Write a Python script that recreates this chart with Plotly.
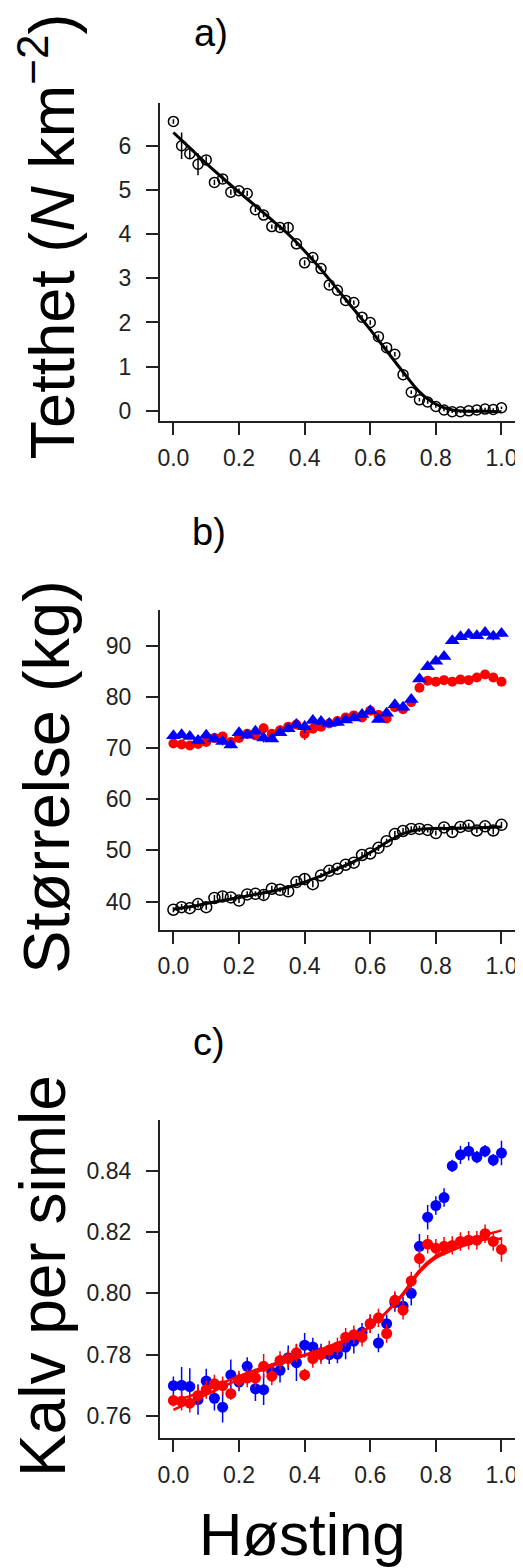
import plotly.graph_objects as go

# harvest rate (x), 41 steps
hosting = [i / 40 for i in range(41)]
fit_x = [i / 20 for i in range(21)]

# a) density
tetthet = [6.55, 6.0, 5.82, 5.58, 5.68, 5.17, 5.25, 4.95, 4.98, 4.92, 4.55, 4.43, 4.17, 4.15,
           4.15, 3.78, 3.35, 3.47, 3.22, 2.85, 2.73, 2.5, 2.45, 2.12, 2.0, 1.68, 1.43, 1.28,
           0.82, 0.42, 0.25, 0.2, 0.1, 0.02, -0.02, -0.02, 0.0, 0.02, 0.04, 0.03, 0.07]
tetthet_err = [0.05, 0.3, 0.1, 0.25, 0.08, 0.06, 0.08, 0.06, 0.05, 0.06, 0.05, 0.05, 0.05, 0.06,
               0.1, 0.05, 0.06, 0.05, 0.05, 0.05, 0.05, 0.05, 0.05, 0.05, 0.05, 0.05, 0.05, 0.05,
               0.05, 0.04, 0.04, 0.04, 0.03, 0.03, 0.03, 0.03, 0.03, 0.03, 0.03, 0.03, 0.03]
tetthet_fit = [6.30, 5.95, 5.60, 5.27, 4.95, 4.64, 4.32, 4.00, 3.62, 3.20, 2.75, 2.30, 1.84,
               1.36, 0.88, 0.43, 0.15, 0.02, -0.01, -0.01, -0.02]

# b) size
str_svart = [38.4, 38.9, 38.7, 39.5, 38.9, 40.7, 41.0, 40.8, 40.2, 41.4, 41.5, 41.3, 42.5, 42.3,
             42.0, 43.8, 44.4, 43.4, 45.1, 46.0, 46.4, 47.2, 47.6, 49.1, 49.4, 50.5, 51.8, 53.2,
             53.8, 54.2, 54.2, 54.0, 53.4, 54.5, 53.6, 54.6, 54.8, 53.9, 54.7, 53.9, 55.0]
str_svart_fit = [38.5, 39.0, 39.6, 40.2, 40.8, 41.4, 42.0, 42.8, 43.8, 45.0, 46.4, 47.8, 49.6,
                 51.6, 53.3, 54.1, 54.3, 54.3, 54.4, 54.5, 54.6]
str_rod = [70.9, 70.7, 70.5, 70.8, 71.2, 72.0, 72.3, 71.2, 72.0, 72.8, 72.5, 73.9, 72.8, 73.5,
           74.2, 74.6, 72.8, 73.8, 74.2, 74.8, 75.3, 76.0, 76.4, 76.0, 77.3, 76.5, 75.8, 78.0,
           77.6, 79.0, 81.8, 83.2, 83.0, 83.3, 83.0, 83.4, 83.3, 83.8, 84.4, 83.8, 83.0]
str_bla = [72.4, 72.6, 72.3, 71.5, 72.5, 71.8, 71.3, 70.6, 73.0, 72.5, 73.3, 72.0, 71.8, 73.0,
           73.8, 74.6, 74.2, 75.4, 75.2, 74.8, 75.0, 75.5, 75.9, 76.6, 77.3, 75.6, 76.8, 78.5,
           78.0, 79.5, 83.5, 85.9, 87.0, 87.9, 91.0, 91.8, 92.2, 92.0, 92.6, 91.9, 92.4]
str_err = [0.5, 0.6, 0.5, 0.7, 0.5, 0.6, 0.8, 0.6, 0.5, 0.6, 0.5, 0.9, 0.6, 0.5,
           0.7, 0.6, 1.2, 0.6, 0.5, 0.6, 0.5, 0.6, 0.5, 0.6, 0.5, 0.6, 0.5, 0.6,
           0.6, 0.5, 0.6, 0.5, 0.5, 0.6, 0.5, 0.6, 0.5, 0.5, 0.6, 0.8, 0.6]

# c) calves per female
kalv_bla = [0.7699, 0.7700, 0.7696, 0.7654, 0.7714, 0.7658, 0.7629, 0.7734, 0.7711, 0.7762,
            0.7689, 0.7686, 0.7743, 0.7749, 0.7790, 0.7774, 0.7831, 0.7825, 0.7806, 0.7800,
            0.7802, 0.7825, 0.7844, 0.7873, 0.7901, 0.7838, 0.7901, 0.7970, 0.7958, 0.8000,
            0.8153, 0.8248, 0.8286, 0.8312, 0.8415, 0.8451, 0.8463, 0.8444, 0.8463, 0.8434, 0.8457]
kalv_bla_err = [0.003, 0.006, 0.006, 0.005, 0.004, 0.004, 0.005, 0.005, 0.003, 0.003,
                0.004, 0.005, 0.003, 0.004, 0.004, 0.006, 0.004, 0.003, 0.003, 0.003,
                0.003, 0.004, 0.004, 0.003, 0.003, 0.003, 0.003, 0.003, 0.003, 0.004,
                0.004, 0.004, 0.003, 0.003, 0.002, 0.003, 0.003, 0.002, 0.002, 0.002, 0.004]
kalv_rod = [0.7651, 0.7648, 0.7642, 0.7667, 0.7686, 0.7705, 0.7699, 0.7673, 0.7718, 0.7724,
            0.7724, 0.7762, 0.7730, 0.7781, 0.7787, 0.7806, 0.7734, 0.7787, 0.7800, 0.7815,
            0.7825, 0.7857, 0.7865, 0.7857, 0.7901, 0.7920, 0.7869, 0.7977, 0.7945, 0.8040,
            0.8113, 0.8160, 0.8147, 0.8153, 0.8156, 0.8169, 0.8173, 0.8173, 0.8194, 0.8169, 0.8143]
kalv_rod_err = [0.002, 0.003, 0.003, 0.003, 0.003, 0.003, 0.003, 0.002, 0.003, 0.003,
                0.003, 0.004, 0.003, 0.003, 0.003, 0.003, 0.002, 0.003, 0.003, 0.003,
                0.003, 0.003, 0.003, 0.003, 0.003, 0.003, 0.003, 0.003, 0.003, 0.003,
                0.003, 0.003, 0.003, 0.003, 0.003, 0.003, 0.003, 0.003, 0.003, 0.003, 0.004]
kalv_fit1 = [0.7620, 0.7645, 0.7670, 0.7695, 0.7720, 0.7742, 0.7762, 0.7780, 0.7797, 0.7813,
             0.7832, 0.7858, 0.7890, 0.7940, 0.8000, 0.8075, 0.8122, 0.8150, 0.8172, 0.8190, 0.8205]
kalv_fit2 = [0.7650, 0.7665, 0.7685, 0.7708, 0.7730, 0.7750, 0.7768, 0.7785, 0.7800, 0.7817,
             0.7838, 0.7862, 0.7892, 0.7938, 0.7995, 0.8068, 0.8115, 0.8140, 0.8160, 0.8175, 0.8178]

# page body adds an 8px margin, so the figure is a bit smaller and coords are shifted
OFF = 8
W, H = 523 - OFF, 1568 - OFF
FONT = "Liberation Sans, Arial, sans-serif"
RED, BLUE = "#ff0000", "#0000ff"


def px(x):
    return (x - OFF) / W


def py(y):
    return 1 - (y - OFF) / H


def err(arr, col):
    return dict(type="data", array=arr, width=0, thickness=1.5, color=col)


fig = go.Figure()

# panel a
fig.add_trace(go.Scatter(x=fit_x, y=tetthet_fit, mode="lines", line=dict(color="black", width=3, shape="spline"),
                         xaxis="x", yaxis="y"))
fig.add_trace(go.Scatter(x=hosting, y=tetthet, mode="markers", error_y=err(tetthet_err, "black"),
                         marker=dict(symbol="circle-open", size=10, color="black", line=dict(width=1.5)),
                         xaxis="x", yaxis="y"))

# panel b
fig.add_trace(go.Scatter(x=hosting, y=str_rod, mode="markers", error_y=err(str_err, RED),
                         marker=dict(symbol="circle", size=10, color=RED), xaxis="x2", yaxis="y2"))
fig.add_trace(go.Scatter(x=hosting, y=str_bla, mode="markers", error_y=err(str_err, BLUE),
                         marker=dict(symbol="triangle-up", size=13, color=BLUE), xaxis="x2", yaxis="y2"))
fig.add_trace(go.Scatter(x=fit_x, y=str_svart_fit, mode="lines", line=dict(color="black", width=3, shape="spline"),
                         xaxis="x2", yaxis="y2"))
fig.add_trace(go.Scatter(x=hosting, y=str_svart, mode="markers", error_y=err(str_err, "black"),
                         marker=dict(symbol="circle-open", size=11, color="black", line=dict(width=1.5)),
                         xaxis="x2", yaxis="y2"))

# panel c
fig.add_trace(go.Scatter(x=hosting, y=kalv_bla, mode="markers", error_y=err(kalv_bla_err, BLUE),
                         marker=dict(symbol="circle", size=11, color=BLUE), xaxis="x3", yaxis="y3"))
fig.add_trace(go.Scatter(x=hosting, y=kalv_rod, mode="markers", error_y=err(kalv_rod_err, RED),
                         marker=dict(symbol="circle", size=11, color=RED), xaxis="x3", yaxis="y3"))
for f in (kalv_fit1, kalv_fit2):
    fig.add_trace(go.Scatter(x=fit_x, y=f, mode="lines", line=dict(color=RED, width=2.5, shape="spline"),
                             xaxis="x3", yaxis="y3"))

xdom = [px(159), px(517)]
axis_common = dict(showline=True, linecolor="#222", linewidth=2, ticks="outside", ticklen=12,
                   tickwidth=2, tickcolor="#222", showgrid=False, zeroline=False,
                   tickfont=dict(family=FONT, size=23, color="#222"))
xcommon = dict(axis_common, range=[-0.0414, 1.0414], tickvals=[0, 0.2, 0.4, 0.6, 0.8, 1.0],
               tickformat=".1f", domain=xdom, ticklabelstandoff=3)

fig.update_layout(
    width=W, height=H, margin=dict(l=0, r=0, t=0, b=0),
    paper_bgcolor="white", plot_bgcolor="white", showlegend=False,
    xaxis=dict(xcommon, anchor="y"),
    xaxis2=dict(xcommon, anchor="y2"),
    xaxis3=dict(xcommon, anchor="y3"),
    yaxis=dict(axis_common, domain=[py(422), py(103)], range=[-0.24, 6.97],
               tickvals=[0, 1, 2, 3, 4, 5, 6], anchor="x", ticklabelstandoff=10),
    yaxis2=dict(axis_common, domain=[py(931), py(611)], range=[34.47, 96.97],
                tickvals=[40, 50, 60, 70, 80, 90], anchor="x2", ticklabelstandoff=10),
    yaxis3=dict(axis_common, domain=[py(1440), py(1121)], range=[0.7528, 0.8566],
                tickvals=[0.76, 0.78, 0.80, 0.82, 0.84], tickformat=".2f", anchor="x3",
                ticklabelstandoff=10),
)

panel = dict(family=FONT, size=38, color="black")
ann = [
    dict(text="a)", x=px(211), y=py(33), font=panel),
    dict(text="b)", x=px(209), y=py(533), font=panel),
    dict(text="c)", x=px(209), y=py(1043), font=panel),
    dict(text="Tetthet (<i>N</i> km<sup>\u22122</sup>)", x=px(46), y=py(237),
         font=dict(family=FONT, size=63, color="black"), textangle=-90),
    dict(text="Størrelse (kg)", x=px(44), y=py(778),
         font=dict(family=FONT, size=65, color="black"), textangle=-90),
    dict(text="Kalv per simle", x=px(42), y=py(1278),
         font=dict(family=FONT, size=64, color="black"), textangle=-90),
    dict(text="Høsting", x=px(303), y=py(1536),
         font=dict(family=FONT, size=60, color="black")),
]
for a in ann:
    a.update(xref="paper", yref="paper", showarrow=False, xanchor="center", yanchor="middle")
fig.update_layout(annotations=ann)

fig.write_html("out.html")
